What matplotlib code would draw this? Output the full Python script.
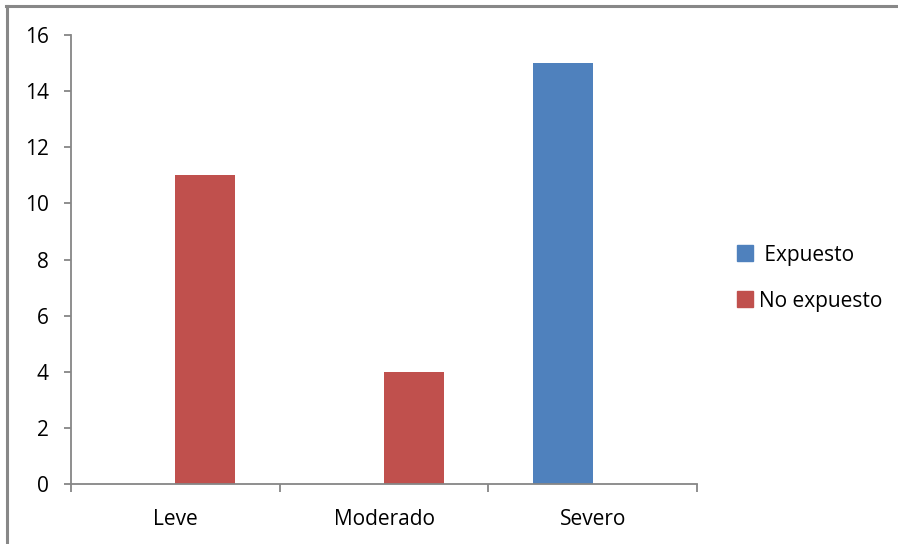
import matplotlib
matplotlib.use("Agg")
import matplotlib.pyplot as plt
import numpy as np
from matplotlib.lines import Line2D

categories = ["Leve", "Moderado", "Severo"]
expuesto = [0, 0, 15]
no_expuesto = [11, 4, 0]
series_names = [" Expuesto", "No expuesto"]
yticks = [0, 2, 4, 6, 8, 10, 12, 14, 16]

blue = "#4F81BD"
red = "#C0504D"
axis_col = "#868686"

plt.rcParams["font.family"] = ["Open Sans", "DejaVu Sans"]

fig = plt.figure(figsize=(8.98, 5.44), dpi=100)
W, H = 898, 544
ax = fig.add_axes([71 / W, (H - 484) / H, (697 - 71) / W, (484 - 35) / H])

x = np.arange(len(categories))
bw = 1 / 3.5
ax.bar(x - bw / 2, expuesto, width=bw, color=blue, label=series_names[0])
ax.bar(x + bw / 2, no_expuesto, width=bw, color=red, label=series_names[1])

ax.set_xlim(-0.5, len(categories) - 0.5)
ax.set_ylim(0, 16)
ax.set_yticks(yticks)
ax.set_yticklabels([str(v) for v in yticks])
ax.set_xticks(x)
ax.set_xticklabels(categories)
ax.set_xticks(np.arange(len(categories) + 1) - 0.5, minor=True)

for s in ["top", "right"]:
    ax.spines[s].set_visible(False)
for s in ["left", "bottom"]:
    ax.spines[s].set_color(axis_col)
    ax.spines[s].set_linewidth(1.3)

fs = 15
ax.tick_params(axis="y", direction="out", length=5, width=1.3, color=axis_col,
               pad=11, labelsize=fs, labelcolor="black")
ax.tick_params(axis="x", which="major", length=0, pad=18, labelsize=fs, labelcolor="black")
ax.tick_params(axis="x", which="minor", direction="out", length=6, width=1.3, color=axis_col)

handles = [Line2D([], [], marker="s", linestyle="none", markersize=12, color=blue),
           Line2D([], [], marker="s", linestyle="none", markersize=12, color=red)]
fig.legend(handles, series_names, loc="center left", bbox_to_anchor=(718 / W, 1 - 278 / H),
           frameon=False, fontsize=fs, handletextpad=0.25, labelspacing=1.2,
           handlelength=0.8)

# figure border (left and top visible)
fig.add_artist(Line2D([7 / W, 7 / W], [0, 1 - 6 / H], transform=fig.transFigure,
                      color="#888888", linewidth=2.2))
fig.add_artist(Line2D([6 / W, 1], [1 - 6 / H, 1 - 6 / H], transform=fig.transFigure,
                      color="#888888", linewidth=2.2))

fig.savefig("out.png", dpi=100)
